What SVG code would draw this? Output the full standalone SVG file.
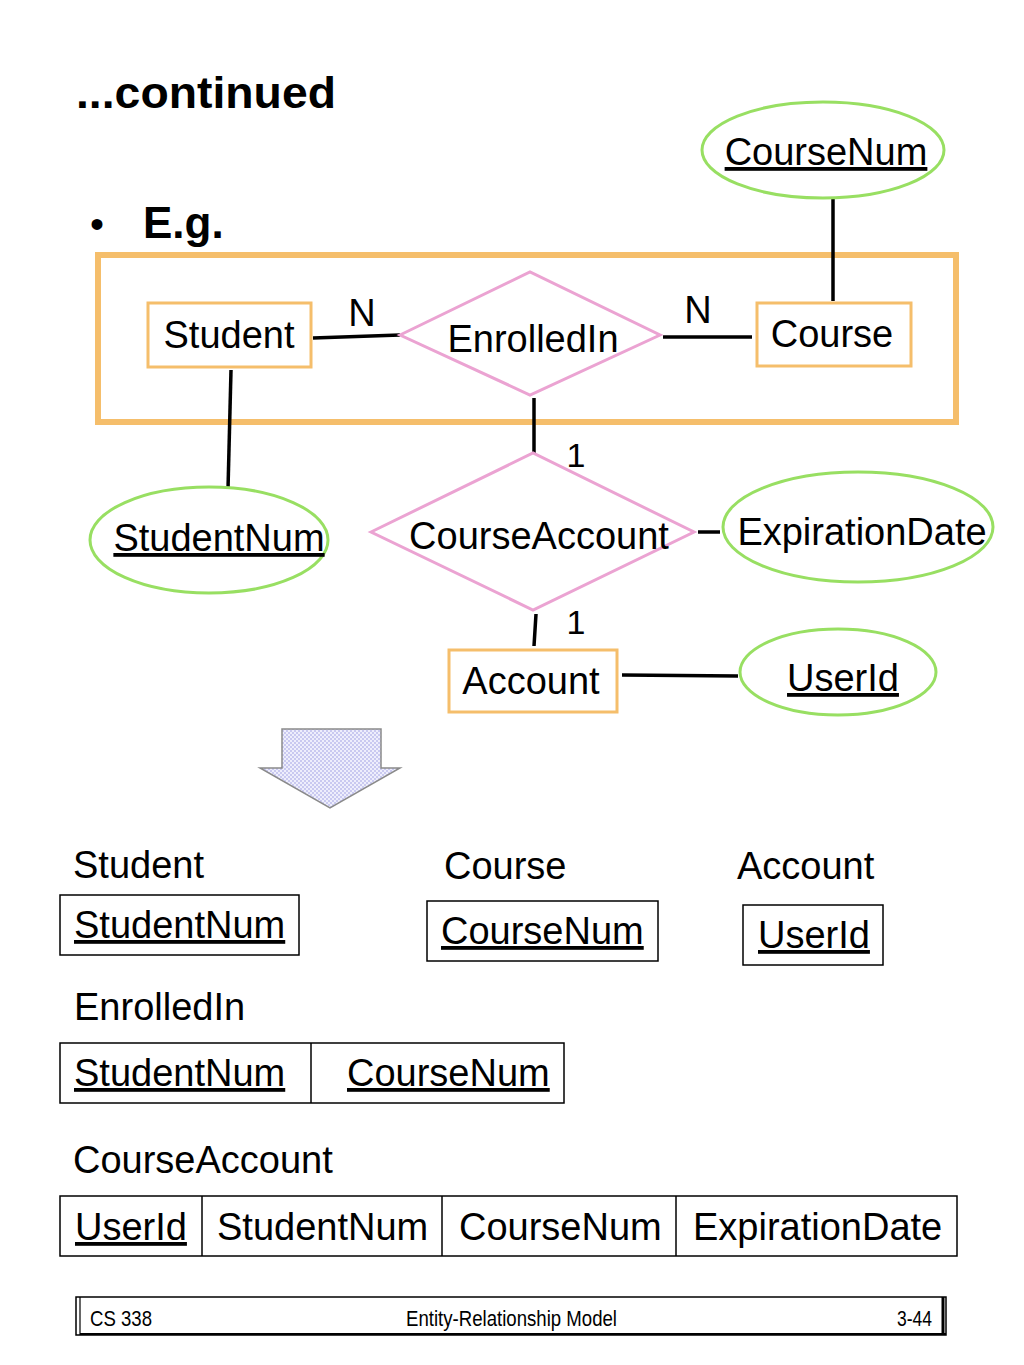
<svg xmlns="http://www.w3.org/2000/svg" width="1024" height="1365" viewBox="0 0 1024 1365">
<style>
text{font-family:"Liberation Sans",Arial,sans-serif;fill:#000}
.t{font-size:38px}
.m{text-anchor:middle}
.u{text-decoration:underline}
.ent{fill:#fff;stroke:#F5BE6B;stroke-width:3}
.rel{fill:#fff;stroke:#EBA3D2;stroke-width:3}
.att{fill:#fff;stroke:#98DF62;stroke-width:3}
.ln{stroke:#000;stroke-width:3.5;fill:none}
.tb{fill:#fff;stroke:#000;stroke-width:1.5}
.f{font-size:22px}
</style>
<defs>
<pattern id="chk" width="4" height="4" patternUnits="userSpaceOnUse">
<rect width="4" height="4" fill="#EEEEFC"/>
<rect width="2" height="2" fill="#C9C9F0"/>
<rect x="2" y="2" width="2" height="2" fill="#C9C9F0"/>
</pattern>
</defs>
<rect width="1024" height="1365" fill="#fff"/>

<g id="title">
<text x="76" y="108" font-size="45" font-weight="bold" textLength="260" lengthAdjust="spacingAndGlyphs">...continued</text>
<text x="90" y="238" font-size="40">•</text>
<text x="143" y="238" font-size="44" font-weight="bold">E.g.</text>
</g>

<g id="aggregate">
<rect x="98" y="255" width="858" height="167" fill="none" stroke="#F5BE6B" stroke-width="6"/>
</g>

<g id="connectors">
<line class="ln" x1="313" y1="338" x2="400" y2="335"/>
<line class="ln" x1="663" y1="337" x2="752" y2="337"/>
<line class="ln" x1="833" y1="198" x2="833" y2="301"/>
<line class="ln" x1="231" y1="370" x2="228" y2="489"/>
<line class="ln" x1="534" y1="398" x2="534" y2="453"/>
<line class="ln" x1="698" y1="532" x2="720" y2="532"/>
<line class="ln" x1="536" y1="614" x2="534" y2="646"/>
<line class="ln" x1="622" y1="675" x2="738" y2="676"/>
<text class="t" x="362" y="326" text-anchor="middle" font-size="36">N</text>
<text class="t" x="698" y="323" text-anchor="middle" font-size="36">N</text>
<text x="576" y="467" text-anchor="middle" font-size="34">1</text>
<text x="576" y="634" text-anchor="middle" font-size="34">1</text>
</g>

<g id="Student">
<rect class="ent" x="148" y="303" width="163" height="64"/>
<text class="t m" x="229" y="348">Student</text>
</g>

<g id="EnrolledIn">
<polygon class="rel" points="400,335 530,272 660,335 530,395"/>
<text class="t m" x="533" y="352">EnrolledIn</text>
</g>

<g id="Course">
<rect class="ent" x="757" y="303" width="154" height="63"/>
<text class="t m" x="832" y="347">Course</text>
</g>

<g id="CourseNum">
<ellipse class="att" cx="823" cy="150" rx="121" ry="48"/>
<text class="t m u" x="826" y="165">CourseNum</text>
</g>

<g id="StudentNum">
<ellipse class="att" cx="209" cy="540" rx="119" ry="53"/>
<text class="t m u" x="219" y="551">StudentNum</text>
</g>

<g id="CourseAccount">
<polygon class="rel" points="371,532 533,453 694,532 533,610"/>
<text class="t m" x="539" y="549">CourseAccount</text>
</g>

<g id="ExpirationDate">
<ellipse class="att" cx="858" cy="527" rx="135" ry="55"/>
<text class="t m" x="862" y="545">ExpirationDate</text>
</g>

<g id="Account">
<rect class="ent" x="449" y="650" width="168" height="62"/>
<text class="t m" x="531" y="694">Account</text>
</g>

<g id="UserId">
<ellipse class="att" cx="838" cy="672" rx="98" ry="43"/>
<text class="t m u" x="843" y="691">UserId</text>
</g>

<g id="arrow">
<polygon points="282,729 381,729 381,768 400,768 330,808 260,768 282,768" fill="url(#chk)" stroke="#8A8A8A" stroke-width="1.5"/>
</g>

<g id="tables">
<text class="t" x="73" y="878">Student</text>
<rect class="tb" x="60" y="895" width="239" height="60"/>
<text class="t u" x="74" y="938">StudentNum</text>

<text class="t" x="444" y="879">Course</text>
<rect class="tb" x="427" y="901" width="231" height="60"/>
<text class="t u" x="441" y="944">CourseNum</text>

<text class="t" x="737" y="879">Account</text>
<rect class="tb" x="743" y="905" width="140" height="60"/>
<text class="t u" x="758" y="948">UserId</text>

<text class="t" x="74" y="1020">EnrolledIn</text>
<rect class="tb" x="60" y="1043" width="504" height="60"/>
<line x1="311" y1="1043" x2="311" y2="1103" stroke="#000" stroke-width="1.5"/>
<text class="t u" x="74" y="1086">StudentNum</text>
<text class="t u" x="347" y="1086">CourseNum</text>

<text class="t" x="73" y="1173">CourseAccount</text>
<rect class="tb" x="60" y="1196" width="897" height="60"/>
<line x1="202" y1="1196" x2="202" y2="1256" stroke="#000" stroke-width="1.5"/>
<line x1="442" y1="1196" x2="442" y2="1256" stroke="#000" stroke-width="1.5"/>
<line x1="676" y1="1196" x2="676" y2="1256" stroke="#000" stroke-width="1.5"/>
<text class="t u" x="75" y="1240">UserId</text>
<text class="t" x="217" y="1240">StudentNum</text>
<text class="t" x="459" y="1240">CourseNum</text>
<text class="t" x="693" y="1240">ExpirationDate</text>
</g>

<g id="footer">
<rect x="76" y="1297" width="870" height="38" fill="none" stroke="#000" stroke-width="1.5"/>
<line x1="80" y1="1297" x2="80" y2="1335" stroke="#000" stroke-width="1.2"/>
<line x1="943" y1="1297" x2="943" y2="1335" stroke="#000" stroke-width="3"/>
<line x1="80" y1="1334" x2="946" y2="1334" stroke="#000" stroke-width="2"/>
<text class="f" x="90" y="1326" textLength="62" lengthAdjust="spacingAndGlyphs">CS 338</text>
<text class="f" x="406" y="1326" textLength="211" lengthAdjust="spacingAndGlyphs">Entity-Relationship Model</text>
<text class="f" x="897" y="1326" textLength="35" lengthAdjust="spacingAndGlyphs">3-44</text>
</g>
</svg>
